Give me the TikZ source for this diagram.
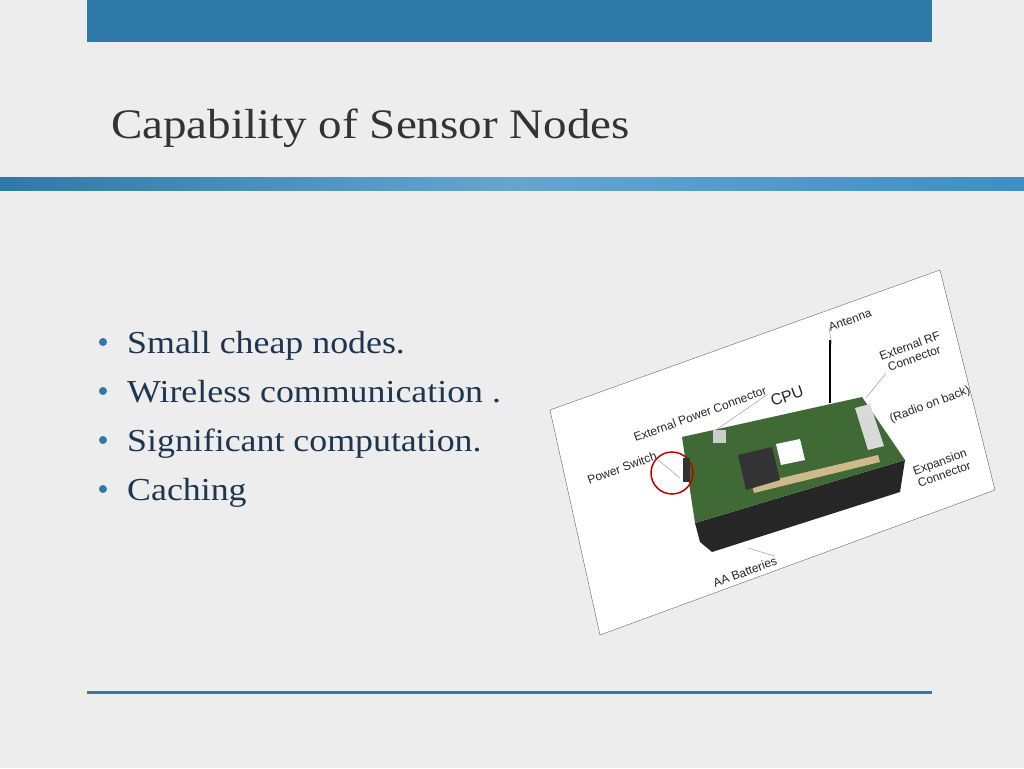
\documentclass[tikz,border=0pt]{standalone}
\usepackage{fontspec}
\setmainfont[FakeStretch=1.12]{Liberation Serif}
\newfontfamily\lblfont{Liberation Sans}
\usetikzlibrary{positioning}
\definecolor{barblue}{HTML}{2E7AA6}
\definecolor{bandblue}{HTML}{3E8FC4}
\definecolor{slidegray}{HTML}{EDEDED}
\definecolor{textblue}{HTML}{1E3550}
\definecolor{boardgreen}{HTML}{3F6A35}
\definecolor{plugbeige}{HTML}{CDB98A}
\begin{document}
\begin{tikzpicture}[
    x=1pt, y=-1pt,
    bulletitem/.style={anchor=base west, text=textblue, font=\fontsize{32}{36}\selectfont, inner sep=0},
    bulletdot/.style={circle, fill=barblue, inner sep=0, minimum size=8pt},
    partlabel/.style={rotate=20, font=\lblfont\fontsize{12}{13}\selectfont, align=center, inner sep=0pt, text=black!85},
    leader/.style={draw=black!45, thin}]
% slide background and bars
\useasboundingbox (0,0) rectangle (1024,768);
\fill[slidegray] (0,0) rectangle (1024,768);
\fill[barblue] (87,0) rectangle (932,42);
\shade[left color=barblue, right color=bandblue, middle color=bandblue!80!white] (0,177) rectangle (1024,190);
\draw[barblue, line width=3pt] (87,692) -- (932,692);

% title
\node[anchor=base west, inner sep=0, text=black!80, font=\fontsize{42}{48}\selectfont] (title) at (111,138) {Capability of Sensor Nodes};

% bullets
\foreach \txt [count=\i] in {Small cheap nodes., Wireless communication ., Significant computation., Caching}{
    \node[bulletitem] (item\i) at (127,{353+(\i-1)*49}) {\txt};
    \node[bulletdot] (dot\i) at (103,{342+(\i-1)*49}) {};
}

% photo frame
\draw[fill=white, draw=black!60] (550,410) -- (940,270) -- (995,490) -- (600,635) -- cycle;

% battery pack and board
\fill[black!85] (695,523) -- (905,460) -- (900,492) -- (712,552) -- (700,542) -- cycle;
\fill[boardgreen] (682,437) -- (862,397) -- (905,460) -- (695,523) -- cycle;
\fill[plugbeige] (752,485) -- (878,455) -- (880,462) -- (754,493) -- cycle;
\fill[black!80] (738,455) -- (772,447) -- (780,480) -- (746,490) -- cycle;
\fill[white] (776,444) -- (800,439) -- (805,460) -- (781,465) -- cycle;
\fill[white!85!black] (855,408) -- (870,404) -- (884,446) -- (868,450) -- cycle;
\fill[white!80!black] (713,430) rectangle (726,443);
\draw[black, line width=2.5pt] (830,340) -- (830,403);
\draw[red!75!black, line width=1.5pt] (672,473) circle (21);
\fill[black!80] (683,458) rectangle (690,482);

% labels
\node[partlabel] (antenna) at (850,320) {Antenna};
\node[partlabel] (extrf) at (912,352) {External RF\\Connector};
\node[partlabel] (radio) at (930,405) {(Radio on back)};
\node[partlabel] (expansion) at (942,468) {Expansion\\Connector};
\node[partlabel] (batteries) at (745,572) {AA Batteries};
\node[partlabel] (switch) at (622,468) {Power Switch};
\node[partlabel] (extpower) at (700,414) {External Power Connector};
\node[partlabel, font=\lblfont\fontsize{16}{17}\selectfont] (cpu) at (787,396) {CPU};

% leaders
\draw[leader] (antenna.west) -- (832,345);
\draw[leader] (extrf.south west) -- (866,398);
\draw[leader] (batteries.north east) -- (748,548);
\draw[leader] (switch.south east) -- (680,478);
\draw[leader] (extpower.south east) -- (716,430);
\end{tikzpicture}
\end{document}
